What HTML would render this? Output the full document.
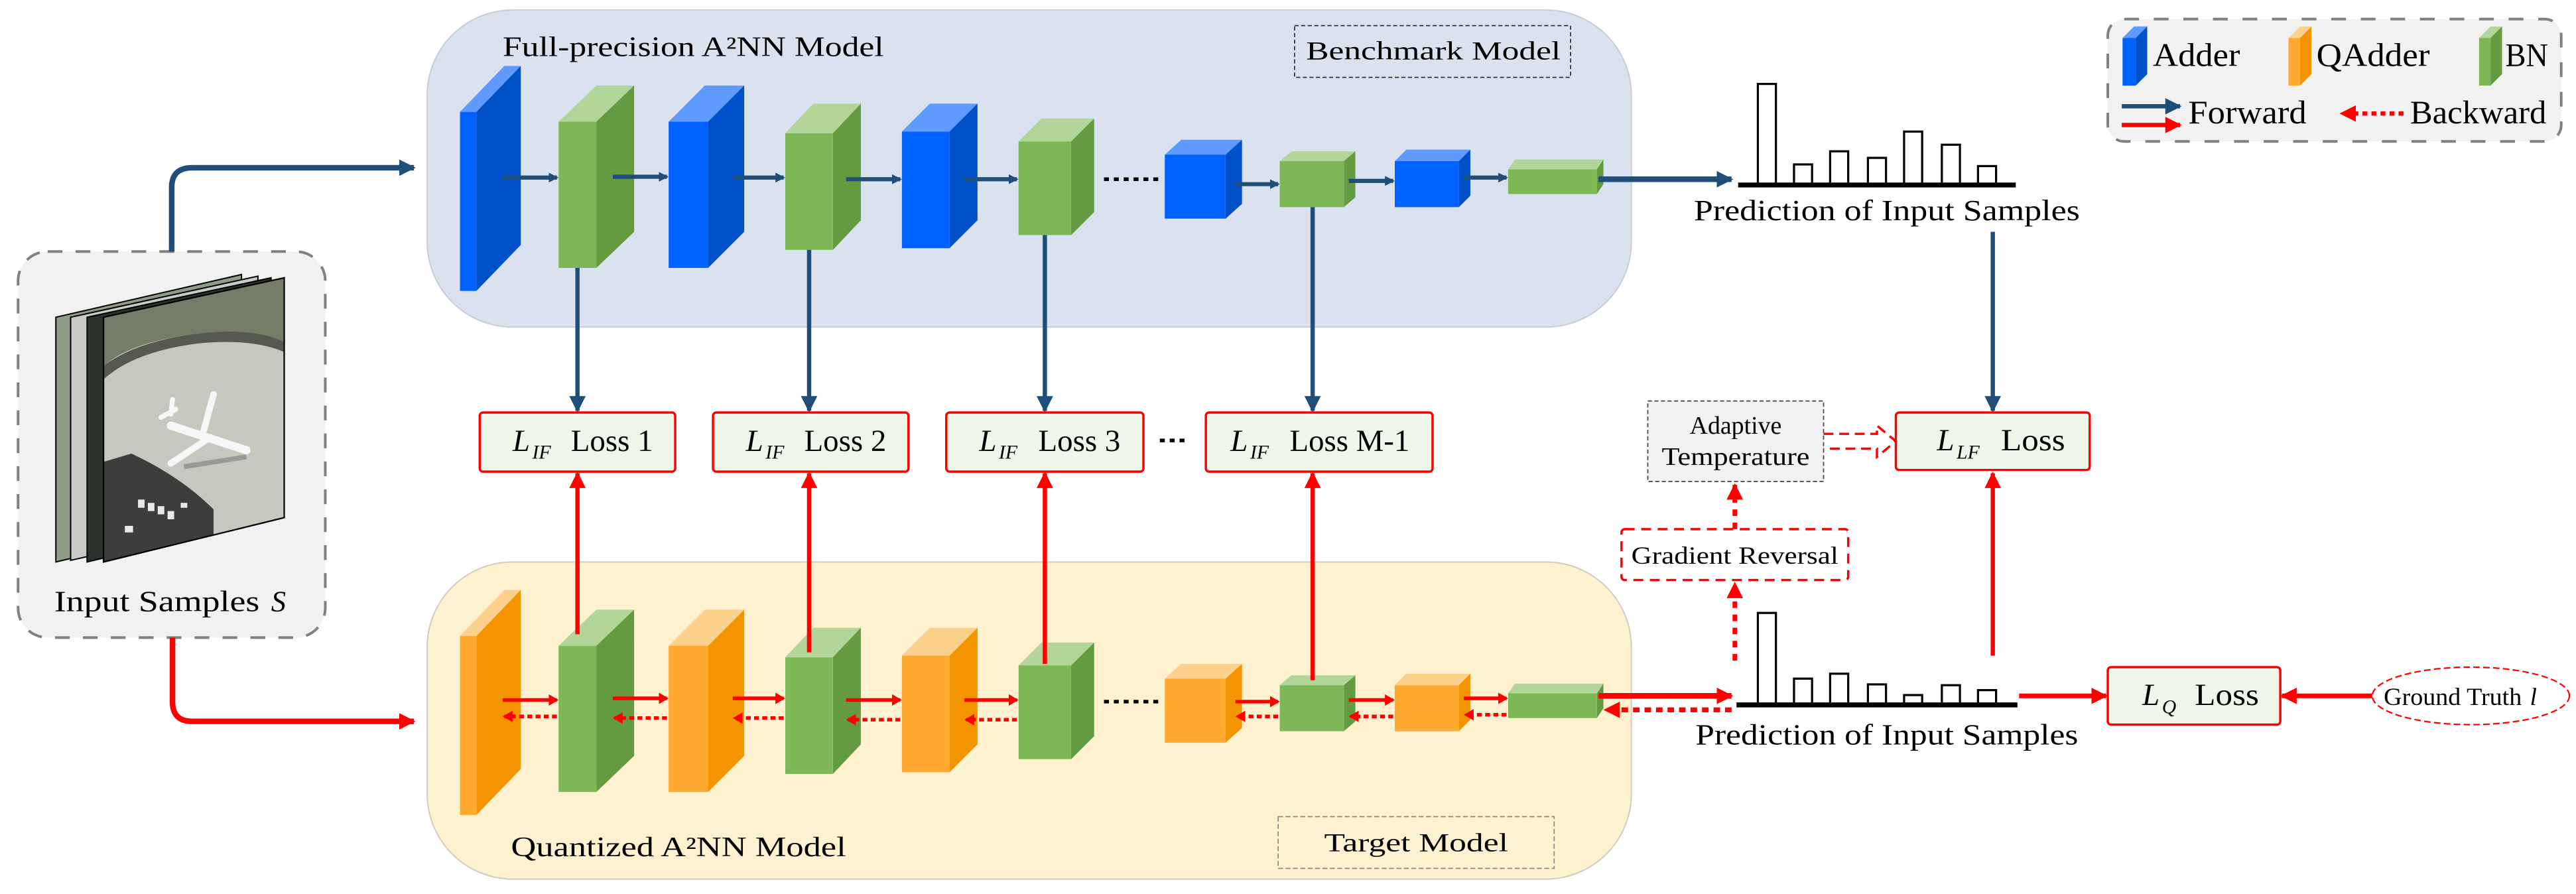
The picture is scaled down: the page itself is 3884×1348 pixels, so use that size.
<!DOCTYPE html>
<html><head><meta charset="utf-8"><style>html,body{margin:0;padding:0;background:#fff}svg{display:block}</style></head><body>
<svg xmlns="http://www.w3.org/2000/svg" width="3884" height="1348" viewBox="0 0 1568 544" font-family="'Liberation Serif', serif">
<defs>
<marker id="hb" markerWidth="6" markerHeight="6" refX="5" refY="3" orient="auto" markerUnits="userSpaceOnUse" viewBox="0 0 6 6"><path d="M0,0 L6,3 L0,6 Z" fill="#1f4e79"/></marker>
<marker id="hbL" markerWidth="10" markerHeight="10" refX="9" refY="5" orient="auto" markerUnits="userSpaceOnUse" viewBox="0 0 10 10"><path d="M0,0 L10,5 L0,10 Z" fill="#1f4e79"/></marker>
<marker id="hr" markerWidth="6" markerHeight="7" refX="5" refY="3.5" orient="auto" markerUnits="userSpaceOnUse" viewBox="0 0 6 7"><path d="M0,0 L6,3.5 L0,7 Z" fill="#ff0000"/></marker>
<marker id="hrL" markerWidth="10" markerHeight="10" refX="9" refY="5" orient="auto" markerUnits="userSpaceOnUse" viewBox="0 0 10 10"><path d="M0,0 L10,5 L0,10 Z" fill="#ff0000"/></marker>
<clipPath id="cf"><polygon points="63,193 173,169 173,315 63,342"/></clipPath>
</defs>

<rect x="260" y="6" width="733" height="193" rx="52" fill="#dae1ef" stroke="#c9ccd4" stroke-width="0.8"/>
<rect x="260" y="342" width="733" height="193" rx="52" fill="#fdf1d0" stroke="#d0ccc0" stroke-width="0.8"/>
<text x="306" y="34" font-size="17" textLength="232" lengthAdjust="spacingAndGlyphs">Full-precision A²NN Model</text>
<rect x="788" y="15.5" width="168" height="31.5" fill="none" stroke="#333" stroke-width="0.7" stroke-dasharray="2.5,1.5"/>
<text x="795" y="36" font-size="16" textLength="155" lengthAdjust="spacingAndGlyphs">Benchmark Model</text>
<text x="311" y="521" font-size="17" textLength="204" lengthAdjust="spacingAndGlyphs">Quantized A²NN Model</text>
<rect x="778" y="497" width="168" height="31.5" fill="none" stroke="#888" stroke-width="0.7" stroke-dasharray="3,1.5"/>
<text x="806" y="518" font-size="16" textLength="112" lengthAdjust="spacingAndGlyphs">Target Model</text>

<rect x="11" y="153" width="187" height="235" rx="18" fill="#f1f1f1" stroke="#808080" stroke-width="1.6" stroke-dasharray="9,8"/>
<polygon points="34,193 147,167 147,315 34,342" fill="#8f9c86" stroke="#000" stroke-width="0.8"/>
<polygon points="43,193 157,168 157,315 43,341" fill="#c9ccc6" stroke="#000" stroke-width="0.8"/>
<polygon points="53,193 165,169 165,315 53,342" fill="#2a332c" stroke="#000" stroke-width="0.8"/>
<g clip-path="url(#cf)">
<rect x="60" y="160" width="120" height="190" fill="#c6c8bf"/>
<path d="M60,160 L180,160 L180,212 Q160,198 120,203 Q80,208 64,222 L60,225 Z" fill="#757c68"/>
<path d="M60,225 Q80,208 120,203 Q160,198 180,212 L180,218 Q160,205 120,209 Q82,214 64,230 L60,233 Z" fill="#55594f"/>
<path d="M60,282 L80,276 Q110,290 130,310 L130,350 L60,350 Z" fill="#3b3e3b"/>
<g fill="#e6e8ea"><rect x="84" y="304" width="4" height="5"/><rect x="90" y="306" width="4" height="5"/><rect x="96" y="308" width="4" height="5"/><rect x="102" y="311" width="4" height="5"/><rect x="76" y="320" width="5" height="4"/><rect x="110" y="306" width="4" height="3"/></g>
<g stroke="#f5f6f6" stroke-linecap="round" fill="none">
<line x1="104" y1="259" x2="150" y2="274" stroke-width="5"/>
<line x1="104" y1="282" x2="128" y2="266" stroke-width="4"/>
<line x1="124" y1="262" x2="130" y2="240" stroke-width="4"/>
<line x1="98" y1="254" x2="107" y2="249" stroke-width="3"/>
<line x1="104" y1="252" x2="105" y2="243" stroke-width="3"/>
</g>
<line x1="112" y1="284" x2="150" y2="278" stroke="#7a7c76" stroke-width="3" opacity="0.6"/>
</g>
<polygon points="63,193 173,169 173,315 63,342" fill="none" stroke="#000" stroke-width="0.9"/>
<text x="33" y="372" font-size="18" textLength="125" lengthAdjust="spacingAndGlyphs">Input Samples</text>
<text x="165" y="372" font-size="18" font-style="italic">S</text>

<path d="M104.5,153 L104.5,114 Q104.5,102 117,102 L252,102" fill="none" stroke="#1f4e79" stroke-width="3.4" marker-end="url(#hbL)"/>
<path d="M105,388 L105,427 Q105,439 117,439 L252,439" fill="none" stroke="#ff0000" stroke-width="3.4" marker-end="url(#hrL)"/>

<g>
<polygon points="280,68 307,40 317,40 290,68" fill="#5f9bff"/><polygon points="290,68 317,40 317,149 290,177" fill="#0050c8"/><rect x="280" y="68" width="10" height="109" fill="#0062ff"/>
<polygon points="340,74 363,52 386,52 363,74" fill="#b2d69a"/><polygon points="363,74 386,52 386,141 363,163" fill="#659b40"/><rect x="340" y="74" width="23" height="89" fill="#7eb856"/>
<polygon points="407,74 429,52 453,52 431,74" fill="#5f9bff"/><polygon points="431,74 453,52 453,141 431,163" fill="#0050c8"/><rect x="407" y="74" width="24" height="89" fill="#0062ff"/>
<polygon points="478,81 495,63 524,63 507,81" fill="#b2d69a"/><polygon points="507,81 524,63 524,134 507,152" fill="#659b40"/><rect x="478" y="81" width="29" height="71" fill="#7eb856"/>
<polygon points="549,80 566,63 595,63 578,80" fill="#5f9bff"/><polygon points="578,80 595,63 595,134 578,151" fill="#0050c8"/><rect x="549" y="80" width="29" height="71" fill="#0062ff"/>
<polygon points="620,86 634,72 666,72 652,86" fill="#b2d69a"/><polygon points="652,86 666,72 666,129 652,143" fill="#659b40"/><rect x="620" y="86" width="32" height="57" fill="#7eb856"/>
<polygon points="709,94 719,85 756,85 746,94" fill="#5f9bff"/><polygon points="746,94 756,85 756,124 746,133" fill="#0050c8"/><rect x="709" y="94" width="37" height="39" fill="#0062ff"/>
<polygon points="779,98 786,92 825,92 818,98" fill="#b2d69a"/><polygon points="818,98 825,92 825,120 818,126" fill="#659b40"/><rect x="779" y="98" width="39" height="28" fill="#7eb856"/>
<polygon points="849,98 856,91 895,91 888,98" fill="#5f9bff"/><polygon points="888,98 895,91 895,119 888,126" fill="#0050c8"/><rect x="849" y="98" width="39" height="28" fill="#0062ff"/>
<polygon points="918,103 922,97 976,97 972,103" fill="#b2d69a"/><polygon points="972,103 976,97 976,112 972,118" fill="#659b40"/><rect x="918" y="103" width="54" height="15" fill="#7eb856"/>
</g>
<g stroke="#1f4e79" stroke-width="2.5" fill="none">
<line x1="306" y1="108" x2="339" y2="108" marker-end="url(#hb)"/>
<line x1="373" y1="107.5" x2="406" y2="107.5" marker-end="url(#hb)"/>
<line x1="446" y1="108" x2="477" y2="108" marker-end="url(#hb)"/>
<line x1="515" y1="109" x2="548" y2="109" marker-end="url(#hb)"/>
<line x1="587" y1="109" x2="619" y2="109" marker-end="url(#hb)"/>
<line x1="752" y1="112" x2="778" y2="112" marker-end="url(#hb)"/>
<line x1="821" y1="110" x2="848" y2="110" marker-end="url(#hb)"/>
<line x1="891" y1="108" x2="917" y2="108" marker-end="url(#hb)"/>
</g>
<line x1="672" y1="109" x2="706" y2="109" stroke="#000" stroke-width="2.2" stroke-dasharray="3,3"/>
<line x1="973" y1="109" x2="1054" y2="109" stroke="#1f4e79" stroke-width="3.4" marker-end="url(#hbL)"/>

<g transform="translate(0,319)">
<polygon points="280,68 307,40 317,40 290,68" fill="#fdd18b"/><polygon points="290,68 317,40 317,149 290,177" fill="#f59401"/><rect x="280" y="68" width="10" height="109" fill="#fea92f"/>
<polygon points="340,74 363,52 386,52 363,74" fill="#b2d69a"/><polygon points="363,74 386,52 386,141 363,163" fill="#659b40"/><rect x="340" y="74" width="23" height="89" fill="#7eb856"/>
<polygon points="407,74 429,52 453,52 431,74" fill="#fdd18b"/><polygon points="431,74 453,52 453,141 431,163" fill="#f59401"/><rect x="407" y="74" width="24" height="89" fill="#fea92f"/>
<polygon points="478,81 495,63 524,63 507,81" fill="#b2d69a"/><polygon points="507,81 524,63 524,134 507,152" fill="#659b40"/><rect x="478" y="81" width="29" height="71" fill="#7eb856"/>
<polygon points="549,80 566,63 595,63 578,80" fill="#fdd18b"/><polygon points="578,80 595,63 595,134 578,151" fill="#f59401"/><rect x="549" y="80" width="29" height="71" fill="#fea92f"/>
<polygon points="620,86 634,72 666,72 652,86" fill="#b2d69a"/><polygon points="652,86 666,72 666,129 652,143" fill="#659b40"/><rect x="620" y="86" width="32" height="57" fill="#7eb856"/>
<polygon points="709,94 719,85 756,85 746,94" fill="#fdd18b"/><polygon points="746,94 756,85 756,124 746,133" fill="#f59401"/><rect x="709" y="94" width="37" height="39" fill="#fea92f"/>
<polygon points="779,98 786,92 825,92 818,98" fill="#b2d69a"/><polygon points="818,98 825,92 825,120 818,126" fill="#659b40"/><rect x="779" y="98" width="39" height="28" fill="#7eb856"/>
<polygon points="849,98 856,91 895,91 888,98" fill="#fdd18b"/><polygon points="888,98 895,91 895,119 888,126" fill="#f59401"/><rect x="849" y="98" width="39" height="28" fill="#fea92f"/>
<polygon points="918,103 922,97 976,97 972,103" fill="#b2d69a"/><polygon points="972,103 976,97 976,112 972,118" fill="#659b40"/><rect x="918" y="103" width="54" height="15" fill="#7eb856"/>
</g>
<g stroke="#ff0000" stroke-width="2.2" fill="none">
<line x1="306" y1="426" x2="339" y2="426" marker-end="url(#hr)"/>
<line x1="373" y1="425" x2="406" y2="425" marker-end="url(#hr)"/>
<line x1="446" y1="425" x2="477" y2="425" marker-end="url(#hr)"/>
<line x1="515" y1="426" x2="548" y2="426" marker-end="url(#hr)"/>
<line x1="587" y1="426" x2="619" y2="426" marker-end="url(#hr)"/>
<line x1="752" y1="427" x2="778" y2="427" marker-end="url(#hr)"/>
<line x1="821" y1="426" x2="848" y2="426" marker-end="url(#hr)"/>
<line x1="891" y1="425" x2="917" y2="425" marker-end="url(#hr)"/>
</g>
<g stroke="#ff0000" stroke-width="2.2" fill="none" stroke-dasharray="3,2">
<line x1="339" y1="436" x2="307" y2="436" marker-end="url(#hr)"/>
<line x1="406" y1="437" x2="374" y2="437" marker-end="url(#hr)"/>
<line x1="477" y1="437" x2="447" y2="437" marker-end="url(#hr)"/>
<line x1="548" y1="438" x2="516" y2="438" marker-end="url(#hr)"/>
<line x1="619" y1="438" x2="588" y2="438" marker-end="url(#hr)"/>
<line x1="778" y1="436" x2="753" y2="436" marker-end="url(#hr)"/>
<line x1="848" y1="436" x2="822" y2="436" marker-end="url(#hr)"/>
<line x1="917" y1="435" x2="892" y2="435" marker-end="url(#hr)"/>
</g>
<line x1="672" y1="427" x2="706" y2="427" stroke="#000" stroke-width="2.2" stroke-dasharray="3,3"/>
<line x1="973" y1="423.5" x2="1054" y2="423.5" stroke="#ff0000" stroke-width="3.4" marker-end="url(#hrL)"/>
<line x1="1054" y1="432" x2="977" y2="432" stroke="#ff0000" stroke-width="3" stroke-dasharray="4,3" marker-end="url(#hrL)"/>

<g stroke="#1f4e79" stroke-width="2.6">
<line x1="351.5" y1="163" x2="351.5" y2="250" marker-end="url(#hbL)"/>
<line x1="492.5" y1="152" x2="492.5" y2="250" marker-end="url(#hbL)"/>
<line x1="636" y1="143" x2="636" y2="250" marker-end="url(#hbL)"/>
<line x1="799" y1="126" x2="799" y2="250" marker-end="url(#hbL)"/>
<line x1="1213" y1="141" x2="1213" y2="250" marker-end="url(#hbL)"/>
</g>
<g stroke="#ff0000" stroke-width="2.6">
<line x1="351.5" y1="386" x2="351.5" y2="288" marker-end="url(#hrL)"/>
<line x1="492.5" y1="397" x2="492.5" y2="288" marker-end="url(#hrL)"/>
<line x1="636" y1="404" x2="636" y2="288" marker-end="url(#hrL)"/>
<line x1="799" y1="414" x2="799" y2="288" marker-end="url(#hrL)"/>
<line x1="1213" y1="399" x2="1213" y2="288" marker-end="url(#hrL)"/>
</g>

<g fill="#eef5e9" stroke="#ff0000" stroke-width="1.4">
<rect x="292" y="251" width="119" height="36" rx="2"/>
<rect x="434" y="251" width="119" height="36" rx="2"/>
<rect x="576" y="251" width="120" height="36" rx="2"/>
<rect x="734" y="251" width="138" height="36" rx="2"/>
<rect x="1154" y="251" width="118" height="35" rx="2"/>
<rect x="1283" y="406" width="105" height="35" rx="2"/>
</g>
<g font-size="19">
<text x="312" y="274.5" font-style="italic">L</text><text x="324" y="279" font-size="12" font-style="italic">IF</text><text x="347.5" y="274.5" textLength="50" lengthAdjust="spacingAndGlyphs">Loss 1</text>
<text x="454" y="274.5" font-style="italic">L</text><text x="466" y="279" font-size="12" font-style="italic">IF</text><text x="489.5" y="274.5" textLength="50" lengthAdjust="spacingAndGlyphs">Loss 2</text>
<text x="596" y="274.5" font-style="italic">L</text><text x="608" y="279" font-size="12" font-style="italic">IF</text><text x="632" y="274.5" textLength="50" lengthAdjust="spacingAndGlyphs">Loss 3</text>
<text x="749" y="274.5" font-style="italic">L</text><text x="761" y="279" font-size="12" font-style="italic">IF</text><text x="785" y="274.5" textLength="73" lengthAdjust="spacingAndGlyphs">Loss M-1</text>
<text x="1179" y="274" font-style="italic">L</text><text x="1191" y="279" font-size="12" font-style="italic">LF</text><text x="1218" y="274" textLength="39" lengthAdjust="spacingAndGlyphs">Loss</text>
<text x="1304" y="429" font-style="italic">L</text><text x="1316" y="434" font-size="12" font-style="italic">Q</text><text x="1336" y="429" textLength="39" lengthAdjust="spacingAndGlyphs">Loss</text>
</g>
<line x1="706" y1="268" x2="722" y2="268" stroke="#000" stroke-width="2.2" stroke-dasharray="3,3"/>

<g fill="#fff" stroke="#000" stroke-width="1.3">
<rect x="1070" y="51" width="11" height="61"/><rect x="1092" y="100" width="11" height="12"/><rect x="1114" y="92" width="11" height="20"/><rect x="1137" y="96" width="11" height="16"/><rect x="1159" y="80" width="11" height="32"/><rect x="1182" y="88" width="11" height="24"/><rect x="1204" y="101" width="11" height="11"/>
<rect x="1070" y="373" width="11" height="56"/><rect x="1092" y="413" width="11" height="16"/><rect x="1114" y="410" width="11" height="19"/><rect x="1137" y="416.5" width="11" height="12.5"/><rect x="1159" y="423" width="11" height="6"/><rect x="1182" y="417" width="11" height="12"/><rect x="1204" y="420" width="11" height="9"/>
</g>
<line x1="1058" y1="112.5" x2="1227" y2="112.5" stroke="#000" stroke-width="3"/>
<line x1="1057" y1="429" x2="1228" y2="429" stroke="#000" stroke-width="3"/>
<text x="1031" y="134" font-size="18" textLength="235" lengthAdjust="spacingAndGlyphs">Prediction of Input Samples</text>
<text x="1032" y="453" font-size="18" textLength="233" lengthAdjust="spacingAndGlyphs">Prediction of Input Samples</text>

<line x1="1229" y1="423.5" x2="1282" y2="423.5" stroke="#ff0000" stroke-width="2.8" marker-end="url(#hrL)"/>
<line x1="1444" y1="423.5" x2="1389" y2="423.5" stroke="#ff0000" stroke-width="2.8" marker-end="url(#hrL)"/>
<ellipse cx="1504" cy="423.5" rx="60" ry="17.5" fill="#fff" stroke="#ff0000" stroke-width="0.9" stroke-dasharray="4,2"/>
<text x="1451" y="429" font-size="15" textLength="84" lengthAdjust="spacingAndGlyphs">Ground Truth</text><text x="1540" y="429" font-size="15" font-style="italic">l</text>

<rect x="1003" y="244" width="107" height="49" fill="#f1f1f1" stroke="#444" stroke-width="0.7" stroke-dasharray="2.5,1.5"/>
<text x="1056.5" y="264" font-size="15.5" text-anchor="middle" textLength="56" lengthAdjust="spacingAndGlyphs">Adaptive</text>
<text x="1056.5" y="283" font-size="15.5" text-anchor="middle" textLength="90" lengthAdjust="spacingAndGlyphs">Temperature</text>
<path d="M1110,264 L1142.5,264 L1142.5,259 L1154,268.5 L1142.5,278 L1142.5,273 L1110,273" fill="none" stroke="#ff0000" stroke-width="1.4" stroke-dasharray="6,3.5"/>

<rect x="987" y="322" width="138" height="31" rx="2" fill="#fff" stroke="#ff0000" stroke-width="1.4" stroke-dasharray="6,4"/>
<text x="993" y="343" font-size="15" textLength="126" lengthAdjust="spacingAndGlyphs">Gradient Reversal</text>
<line x1="1056" y1="402" x2="1056" y2="355" stroke="#ff0000" stroke-width="2.8" stroke-dasharray="4,4" marker-end="url(#hrL)"/>
<line x1="1056" y1="322" x2="1056" y2="295" stroke="#ff0000" stroke-width="2.8" stroke-dasharray="4,4" marker-end="url(#hrL)"/>

<rect x="1283" y="11.5" width="276" height="74.5" rx="10" fill="#f1f1f1" stroke="#808080" stroke-width="1.6" stroke-dasharray="9,9"/>
<polygon points="1292,23 1299,16 1307,16 1300,23" fill="#5f9bff"/><polygon points="1300,23 1307,16 1307,45 1300,52" fill="#0050c8"/><rect x="1292" y="23" width="8" height="29" fill="#0062ff"/>
<polygon points="1393,23 1400,16 1407,16 1400,23" fill="#fdd18b"/><polygon points="1400,23 1407,16 1407,45 1400,52" fill="#f59401"/><rect x="1393" y="23" width="7" height="29" fill="#fea92f"/>
<polygon points="1509,23 1516,16 1523,16 1516,23" fill="#b2d69a"/><polygon points="1516,23 1523,16 1523,45 1516,52" fill="#659b40"/><rect x="1509" y="23" width="7" height="29" fill="#7eb856"/>
<text x="1310.5" y="40" font-size="20" textLength="53" lengthAdjust="spacingAndGlyphs">Adder</text>
<text x="1410" y="40" font-size="20" textLength="69" lengthAdjust="spacingAndGlyphs">QAdder</text>
<text x="1525" y="40" font-size="20" textLength="26" lengthAdjust="spacingAndGlyphs">BN</text>
<line x1="1291.5" y1="64.6" x2="1327" y2="64.6" stroke="#1f4e79" stroke-width="2.6" marker-end="url(#hbL)"/>
<line x1="1291.5" y1="76" x2="1327" y2="76" stroke="#ff0000" stroke-width="2.6" marker-end="url(#hrL)"/>
<text x="1332" y="75" font-size="20" textLength="72" lengthAdjust="spacingAndGlyphs">Forward</text>
<line x1="1463" y1="69" x2="1425" y2="69" stroke="#ff0000" stroke-width="2.6" stroke-dasharray="3,2.5" marker-end="url(#hrL)"/>
<text x="1467" y="75" font-size="20" textLength="83" lengthAdjust="spacingAndGlyphs">Backward</text>
</svg>
</body></html>
